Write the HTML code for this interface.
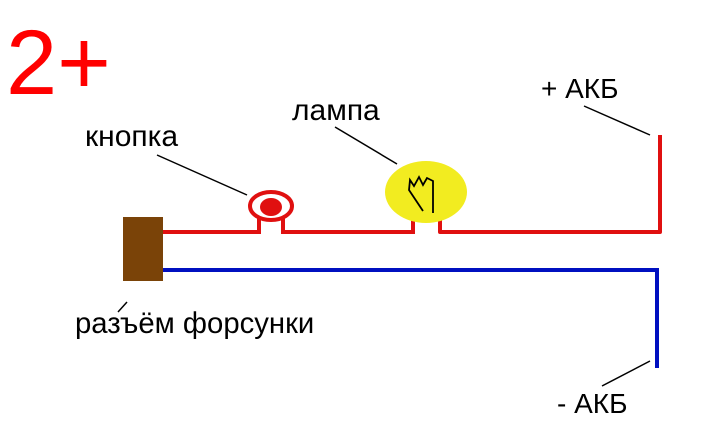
<!DOCTYPE html>
<html><head><meta charset="utf-8"><style>
html,body{margin:0;padding:0;background:#fff;}
svg{display:block}
text{font-family:"Liberation Sans","DejaVu Sans",sans-serif;}
</style></head><body>
<svg width="706" height="433" viewBox="0 0 706 433" xmlns="http://www.w3.org/2000/svg">
<rect width="706" height="433" fill="#fff"/>
<text x="6" y="94" font-size="92" fill="#f00">2+</text>
<text x="85" y="146" font-size="30" fill="#000">кнопка</text>
<text x="292" y="120" font-size="30" fill="#000">лампа</text>
<text x="541" y="98" font-size="28" fill="#000">+ АКБ</text>
<text x="557" y="413" font-size="28" fill="#000">- АКБ</text>
<text x="75" y="333" font-size="29.3" fill="#000">разъём форсунки</text>
<g stroke="#000" stroke-width="1.5">
<line x1="157" y1="155" x2="247" y2="195"/>
<line x1="335" y1="127" x2="397" y2="164"/>
<line x1="584" y1="106" x2="650" y2="135"/>
<line x1="602" y1="386" x2="650" y2="361"/>
<line x1="118" y1="312" x2="127" y2="302"/>
</g>
<polyline points="163,232 259,232 259,218" fill="none" stroke="#e01010" stroke-width="4"/>
<polyline points="283,218 283,232 413,232 413,220" fill="none" stroke="#e01010" stroke-width="4"/>
<polyline points="440,220 440,232 660,232 660,135" fill="none" stroke="#e01010" stroke-width="4" stroke-linejoin="round"/>
<polyline points="163,270 657,270 657,368" fill="none" stroke="#0010c0" stroke-width="4"/>
<ellipse cx="271" cy="206" rx="21" ry="14" fill="#fff" stroke="#e01010" stroke-width="4"/>
<ellipse cx="271" cy="207" rx="11" ry="9" fill="#e01010"/>
<ellipse cx="426" cy="192" rx="41" ry="31" fill="#f2ec20"/>
<polyline points="423,211 409,190 410,180 414,186 419,177 423,185 427,178 433,181 433,213" fill="none" stroke="#000" stroke-width="1.8"/>
<rect x="123" y="217" width="40" height="64" fill="#7a4308"/>
</svg>
</body></html>
